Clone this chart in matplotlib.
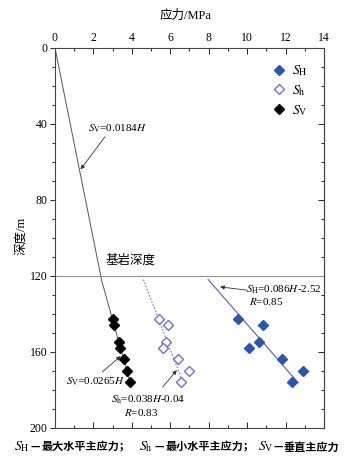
import matplotlib
matplotlib.use("Agg")
import matplotlib.pyplot as plt
from matplotlib.ticker import MultipleLocator

plt.rcParams['font.family'] = ['Liberation Serif', 'Noto Sans CJK SC']
plt.rcParams['mathtext.fontset'] = 'stix'

# Data (depth H in m, stress in MPa)
depth = [143, 146, 155, 158, 164, 170, 176]
SV = [3.04, 3.09, 3.35, 3.39, 3.59, 3.73, 3.91]
Sh = [5.42, 5.90, 5.76, 5.61, 6.39, 6.98, 6.55]
SH = [9.55, 10.80, 10.64, 10.10, 11.84, 12.93, 12.33]

# Fitted / trend lines
sv_line_H = [0, 123, 177]
sv_line_x = [0, 2.44, 3.93]
sh_fit_H = [122, 177]
sh_fit_x = [0.038 * h - 0.04 for h in sh_fit_H]
SH_fit_H = [122, 176.5]
SH_fit_x = [0.086 * h - 2.52 for h in SH_fit_H]
bedrock_depth = 120

xticks = [0, 2, 4, 6, 8, 10, 12, 14]
yticks = [0, 40, 80, 120, 160, 200]

fig = plt.figure(figsize=(3.52, 4.67), dpi=100)
ax = fig.add_axes([55/352, 1 - 427.5/467, (324 - 55)/352, (427.5 - 48)/467])

ax.set_xlim(0, 14)
ax.set_ylim(200, 0)

# lines
ax.plot(sv_line_x, sv_line_H, color='#555555', lw=0.7)
ax.plot(sh_fit_x, sh_fit_H, color='#7878c8', lw=0.8, ls=(0, (1.5, 1.5)))
ax.plot(SH_fit_x, SH_fit_H, color='#6a6ab8', lw=0.9)
ax.axhline(bedrock_depth, color='#909090', lw=0.8)

# points
ax.plot(SH, depth, 'D', ms=5.5, color='#2b58a8', mec='#2b58a8', ls='none', label=r'$S_\mathrm{H}$')
ax.plot(Sh, depth, 'D', ms=5.5, mfc='white', mec='#7070c8', mew=1.0, ls='none', label=r'$S_\mathrm{h}$')
ax.plot(SV, depth, 'D', ms=5.5, color='black', ls='none', label=r'$S_\mathrm{V}$')

# ticks
ax.set_xticks(xticks)
ax.set_yticks(yticks)
ax.xaxis.set_minor_locator(MultipleLocator(1))
ax.yaxis.set_minor_locator(MultipleLocator(10))
ax.tick_params(axis='x', which='both', top=True, bottom=True, labeltop=True,
               labelbottom=False, direction='in', labelsize=8.5, pad=3)
ax.tick_params(axis='x', which='major', length=4, width=0.6)
ax.tick_params(axis='x', which='minor', length=2.5, width=0.6)
ax.tick_params(axis='y', which='both', left=True, right=False, direction='out',
               labelsize=8.5, pad=2)
ax.tick_params(axis='y', which='major', length=3.5, width=0.6)
ax.tick_params(axis='y', which='minor', length=2.5, width=0.6)
sec = ax.secondary_yaxis('right')
sec.set_yticks(yticks)
sec.yaxis.set_minor_locator(MultipleLocator(10))
sec.tick_params(axis='y', which='both', direction='in', labelright=False)
sec.tick_params(axis='y', which='major', length=4, width=0.6)
sec.tick_params(axis='y', which='minor', length=2.5, width=0.6)
sec.spines['right'].set_linewidth(0.8)
for s in ax.spines.values():
    s.set_linewidth(0.8)
    s.set_color('#444444')

cjk = ['Noto Sans CJK SC', 'DejaVu Sans']
fig.text(186/352, 1 - 16/467, '应力/MPa', ha='center', va='center', fontsize=9,
         family=['Liberation Serif', 'Noto Sans CJK SC'])
fig.text(21/352, 1 - 236/467, '深度/m', ha='center', va='center', rotation=90,
         fontsize=9, family=['Liberation Serif', 'Noto Sans CJK SC'])

# legend
leg = ax.legend(loc='upper right', bbox_to_anchor=(0.975, 0.985), frameon=False,
                fontsize=10, handletextpad=0.3, labelspacing=0.35,
                borderaxespad=0.3, handlelength=1.2)

# annotations
ax.text(3.95, 112, '基岩深度', fontsize=9, ha='center', va='center', family=cjk)
arrow = dict(arrowstyle='-|>', color='#333333', lw=0.6, mutation_scale=6,
             shrinkA=0, shrinkB=0)
ax.text(1.7, 42.5, r'$S_\mathrm{V}$=0.0184$H$', fontsize=8, ha='left', va='center')
ax.annotate('', xy=(1.33, 64), xytext=(2.6, 46.8), arrowprops=arrow)
ax.text(0.55, 176, r'$S_\mathrm{V}$=0.0265$H$', fontsize=8, ha='left', va='center')
ax.annotate('', xy=(3.42, 162.4), xytext=(2.46, 170.7), arrowprops=arrow)
ax.text(2.9, 185.6, r'$S_\mathrm{h}$=0.038$H$-0.04', fontsize=8, ha='left', va='center')
ax.text(3.6, 192.3, r'$R$=0.83', fontsize=8, ha='left', va='center')
ax.annotate('', xy=(6.34, 169.8), xytext=(5.61, 178.6), arrowprops=arrow)
ax.text(9.95, 127.6, r'$S_\mathrm{H}$=0.086$H$-2.52', fontsize=8, ha='left', va='center')
ax.text(10.1, 133.8, r'$R$=0.85', fontsize=8, ha='left', va='center')
ax.annotate('', xy=(8.59, 125.9), xytext=(9.98, 127.6), arrowprops=arrow)

# caption
yc = 1 - 447/467
def cap(xpx, s, math=False, size=8):
    if math:
        fig.text(xpx/352, yc, s, fontsize=10, ha='left', va='center')
    else:
        fig.text(xpx/352, yc, s, fontsize=size, ha='left', va='center',
                 family=cjk, weight='bold')

cap(14, r'$S_\mathrm{H}$', True)
cap(30, '—', size=7.5)
cap(42, '最大水平主应力；')
cap(139, r'$S_\mathrm{h}$', True)
cap(154, '—', size=7.5)
cap(166, '最小水平主应力；')
cap(258, r'$S_\mathrm{V}$', True)
cap(273, '—', size=7.5)
cap(284, '垂直主应力')

fig.savefig('out.png', dpi=100)
